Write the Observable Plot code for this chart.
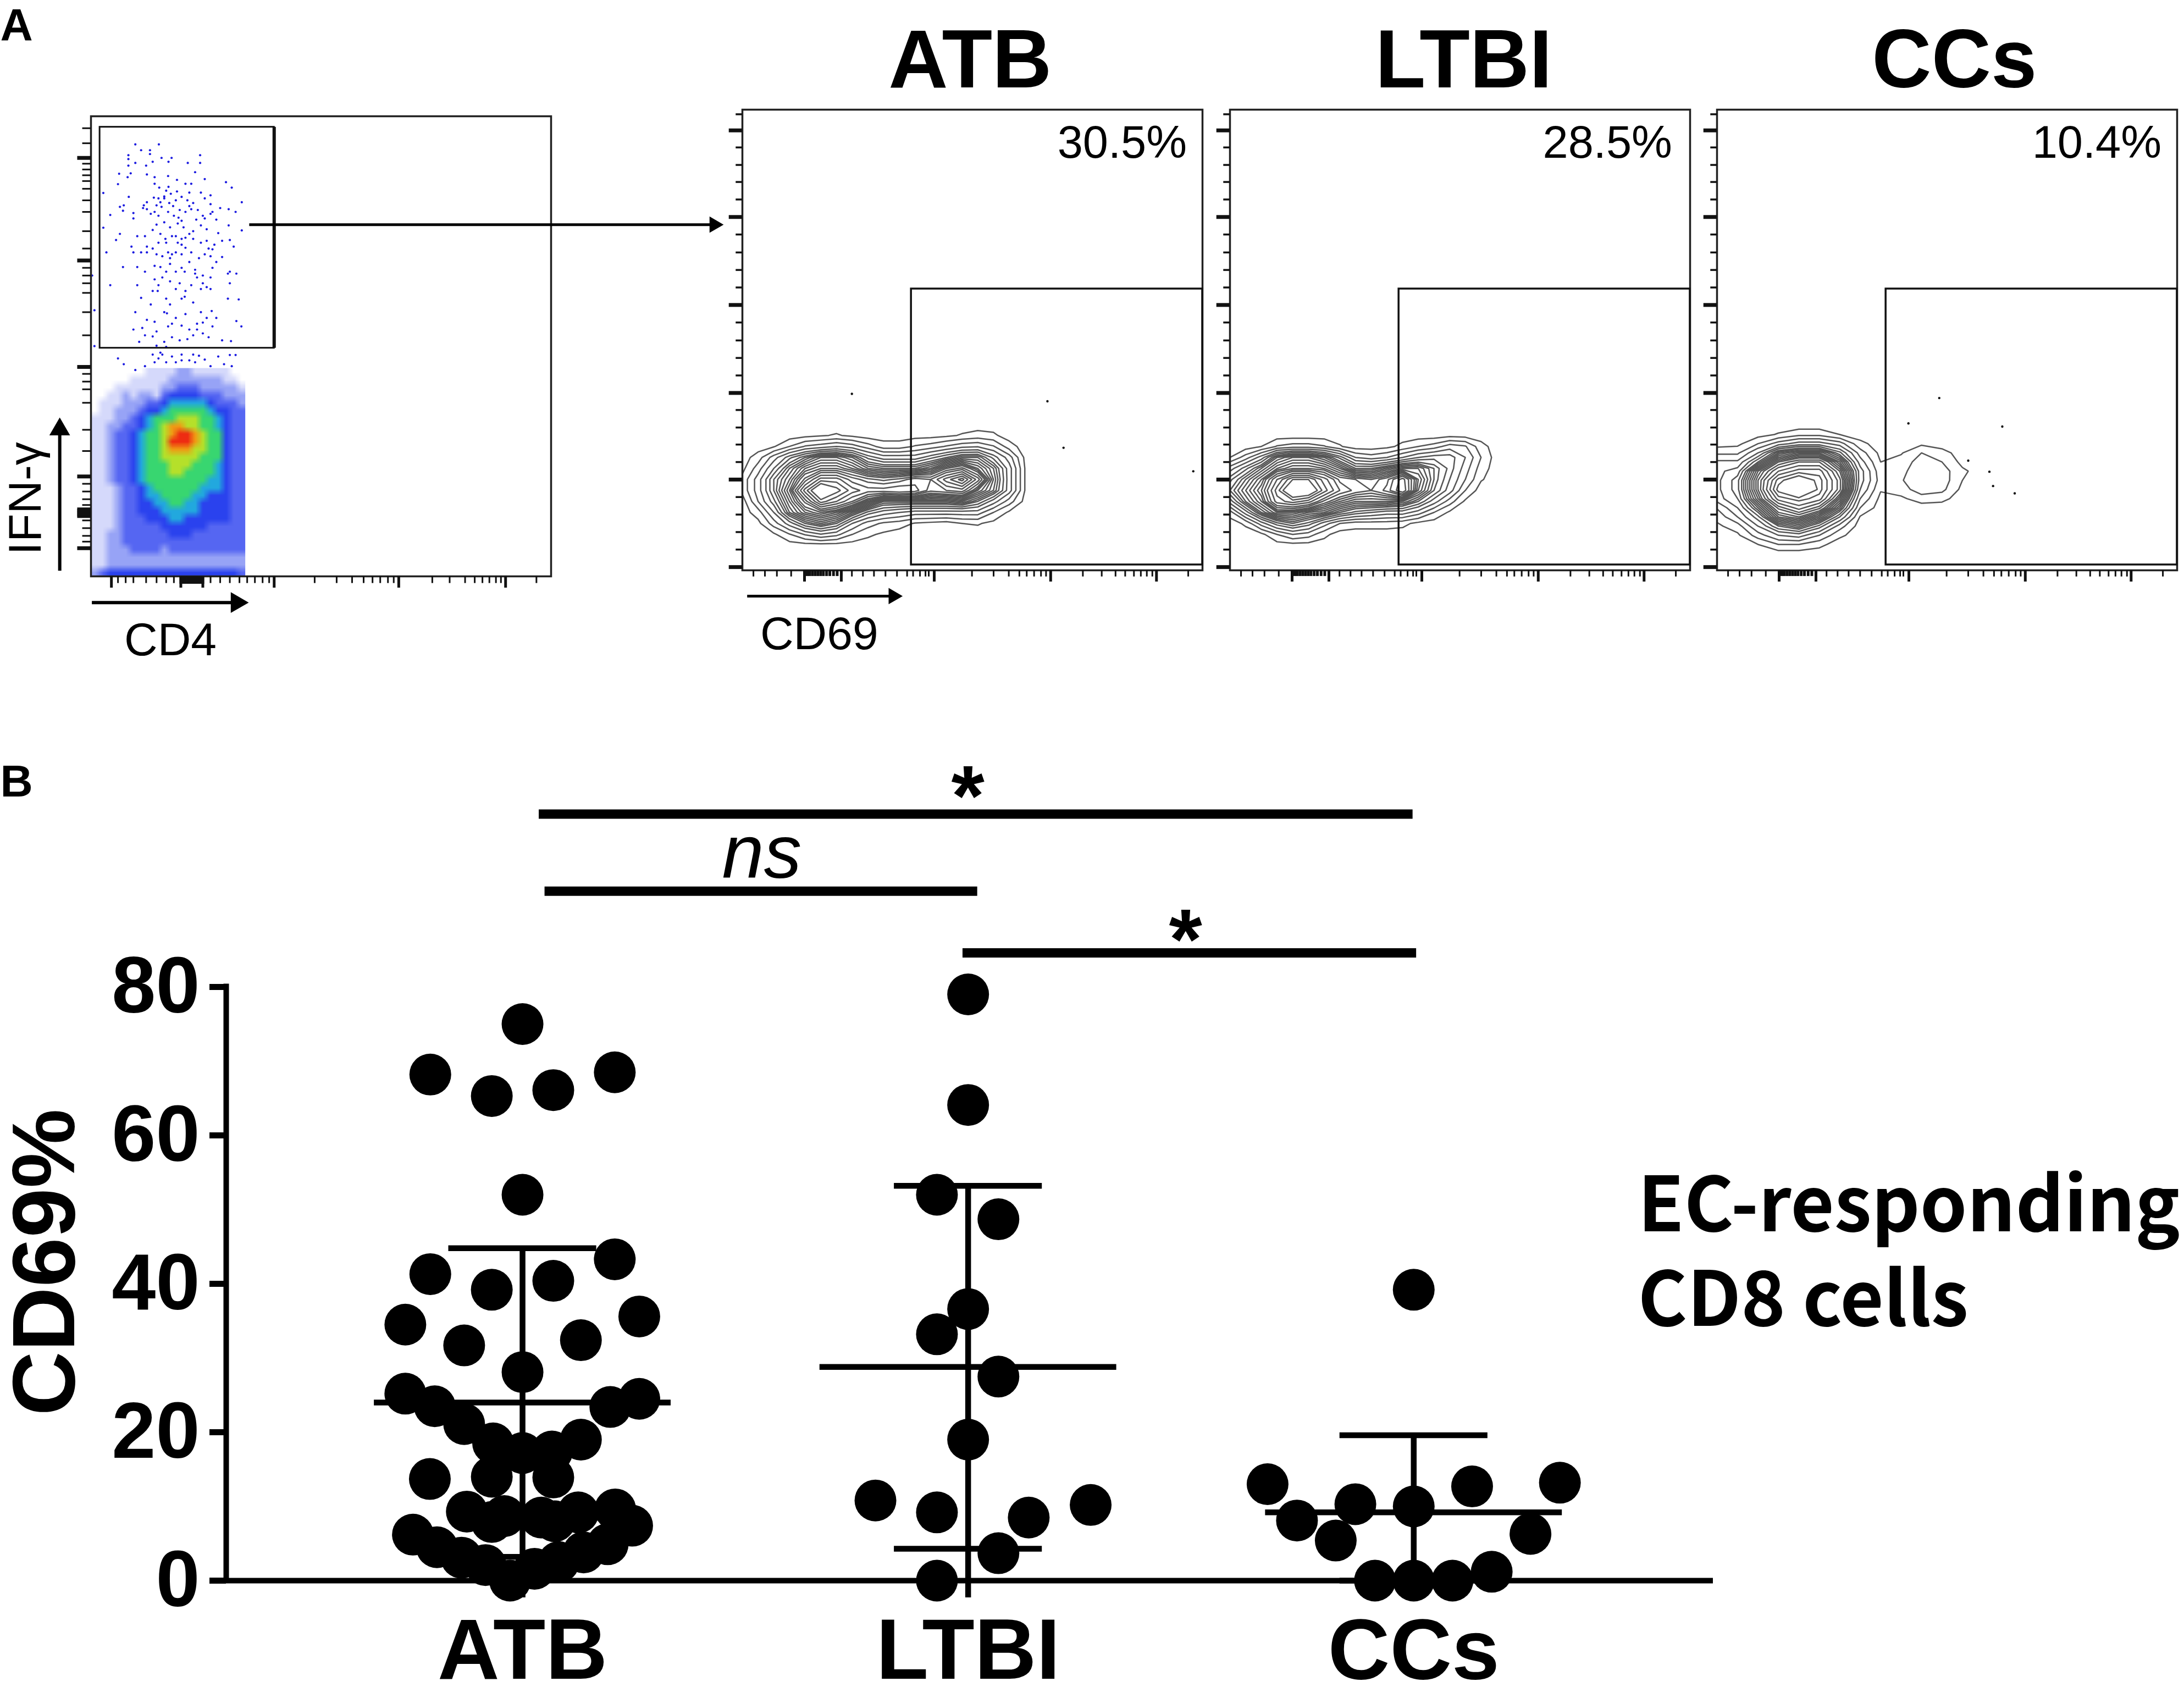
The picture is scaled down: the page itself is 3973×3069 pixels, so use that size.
<!DOCTYPE html>
<html>
<head>
<meta charset="utf-8">
<script src="https://cdn.jsdelivr.net/npm/d3@7"></script>
<script src="https://cdn.jsdelivr.net/npm/@observablehq/plot@0.6"></script>
<style>
html,body{margin:0;padding:0;background:#fff;}
#page{position:relative;width:3973px;height:3069px;overflow:hidden;background:#fff;}
#page svg{position:absolute;max-width:none;}
</style>
</head>
<body>
<div id="page"></div>
<script>
// ---------- Panel B values ----------
const groups = ["ATB", "LTBI", "CCs"];
const atbValues = [75.0,68.2,65.3,66.1,68.5,52.0,43.3,41.3,39.2,40.4,34.5,35.6,31.7,32.4,28.1,25.2,23.5,21.1,24.5,23.4,19.0,18.5,17.2,17.4,13.7,14.0,13.9,9.3,7.9,8.7,8.5,8.0,9.2,9.6,7.4,6.2,4.5,3.1,2.1,0,1.6,2.5,3.8,4.9];
const atbSpread = [0,-.207,-.069,.069,.207,0,.207,-.207,-.069,.069,-.263,.262,-.131,.131,0,-.263,-.197,-.131,.262,.197,.131,-.066,0,.066,-.208,-.069,.069,-.125,-.069,-.041,.042,.072,.125,.208,.246,-.246,-.192,-.137,-.083,-.028,.027,.081,.137,.191];
const ltbiValues = [79.0,64.1,52.0,48.7,36.6,33.2,27.5,19.0,10.8,9.2,8.5,10.2,3.7,0];
const ltbiSpread = [0,0,-.07,.068,0,-.07,.068,0,-.208,-.07,.136,.275,.068,-.07];
const ccValues = [39.2,13.0,8.1,5.4,10.3,10.0,12.7,13.2,6.3,0,0,0,1.2];
const ccSpread = [0,-.328,-.262,-.175,-.131,0,.131,.328,.262,-.087,0,.087,.175];
const means = [24.0,28.8,9.2];
const sdUpper = [44.8,53.2,19.6];
const sdLower = [3.2,4.3,0];
const whiskerEnd = [-2.3,-2.3,0];
const sigStart = [0.037,0.05,0.988];
const sigEnd = [1.998,1.021,2.006];
const sigLevel = [103.3,92.9,84.6];
const sigLabels = ["*","ns","*"];
const yTicks = [0,20,40,60,80];

// ---------- Panel A: percentages, gates, tick readings ----------
const panelNames = ["ATB","LTBI","CCs"];
const panelPercents = ["30.5%","28.5%","10.4%"];
const cd69Gate = [{x1:367,x2:1000,y1:12,y2:611}];
const flowTickYMajor = [7,197,385,576,767,955];
const flowTickYMinor = [45,83,121,159,235,273,310,348,423,461,499,538,614,652,690,729,805,843,880,918,990];
const flowTickXMajor = [135,215,417,670,900];
const flowTickXMinor = [24,49,75,106,238,262,286,311,336,358,371,386,398,405,499,546,579,602,618,634,649,660,740,781,811,832,851,866,879,891,969];
const flowTickXBlock = [135,141,146,152,158,164,170,176,183,190,198,206,215];

const atbFlyers = [[238,383],[663,367],[698,266],[980,215]];
const ltbiFlyers = [];
const ccFlyers = [[483,374],[416,319],[620,312],[546,238],[592,214],[600,183],[647,167]];

const contourLevels = [.5,1.5,2.5,3.5,4.5,5.25,6,6.5,7,7.5,8,8.5,9,9.5,10,10.75,11.5,12.5,13.5,14.5,15.5];

const atbGrid = [
 [0,0,0,0,0,0,0,0,0,0,0,0,0,0,0,0,0,0,0,0],
 [0,0,0,0,.2,.4,.6,.3,0,0,0,.1,.1,.3,.6,.9,.7,0,0,0],
 [0,0,.4,1.5,2.6,3,3.5,3,2,1,1,1.6,2,2.6,3.2,3.4,2.6,1,0,0],
 [0,1,3,5,6.5,8,8,7,5,4,4,4,5,6,7,7,5,3,.3,0],
 [.2,2,4.5,7,9,10,10,9,7.5,7,7,7,8,10,11,9,7,4,.5,0],
 [.8,3,6,8,11,14,14,12,11,10.5,11,12,11.5,14,16,12,7.5,4,.5,0],
 [.8,3,6,9,14,18,16,14,13,13,13.5,13,11,11.5,12,9,7,4,.5,0],
 [0,2.5,5,8,11,15,13.5,11.5,9,7,7,7,7,7,7.5,6,4,2,.2,0],
 [0,1,3.5,7,9,10,9,7,5,4,3.5,3,3,3,3,3,1.5,.3,0,0],
 [0,.2,2,4,6,7,6,3.5,2,1.3,1,.4,.2,0,.5,.6,.2,0,0,0],
 [0,0,.3,1.4,2.6,3.4,2.8,1.5,.7,.3,0,0,0,0,0,0,0,0,0,0],
 [0,0,0,0,0,0,0,0,0,0,0,0,0,0,0,0,0,0,0,0]
];
const ltbiGrid = [
 [0,0,0,0,0,0,0,0,0,0,0,0,0,0,0,0,0,0,0,0],
 [0,0,0,0,0,0,0,0,0,0,0,0,0,0,.2,.1,0,0,0,0],
 [0,0,.5,1.6,2,2,1.6,.6,0,0,.2,.8,1.5,2,3,2.6,.9,0,0,0],
 [.5,2,4,7,8,8,7,5,2.5,2,2.5,3.5,4.5,5,5,3.5,1.5,0,0,0],
 [3,5,7,9,10,10,9.5,8,6,6,7,8,8,6.5,5,3,1,0,0,0],
 [5,7,9,12.5,15.5,15.5,13,10.5,10,9.5,10.5,13,9,6.5,4.5,2.5,.6,0,0,0],
 [6,8,10,14,18,17.5,14,11.5,10.5,10,11,13.5,8.5,6,4,1.5,0,0,0,0],
 [4,7,9,13,14,13,10.5,9,8,8,8,7.5,6,4,2,.3,0,0,0,0],
 [1,4,7,9,9,8,7.5,6,5,4.5,4,4,3,1.5,.3,0,0,0,0,0],
 [0,.7,3,5,6,5,3,1.5,1,1,1,.8,.2,0,0,0,0,0,0,0],
 [0,0,.2,1.5,2.5,2,.8,0,0,0,0,0,0,0,0,0,0,0,0,0],
 [0,0,0,0,0,0,0,0,0,0,0,0,0,0,0,0,0,0,0,0]
];
const ccGrid = [
 [0,0,0,0,0,0,0,0,0,0,0,0,0,0],
 [0,0,.1,.6,1.2,1.2,.5,0,0,0,0,0,0,0],
 [0,.2,1.5,3,4,4,3,.8,0,0,.3,0,0,0],
 [1.3,1.3,3.5,7,8,8,5.5,2,.2,.4,1.5,.9,0,0],
 [2.7,2.7,6,10,11.5,11.5,8,3,.5,.9,2,1.5,.2,0],
 [3.2,4,9,12.5,14,14,10,4,.8,1.2,2.2,2,.7,0],
 [3.2,5,10,15,17,15,11,4,1,1.4,2.3,2.1,.5,0],
 [3.2,5,10,16,20,15,11,3.5,.6,1,2.1,1.8,.2,0],
 [3,4.5,9,14,15,14,9,2.5,.2,.3,1,.8,0,0],
 [1.6,3.5,7,11,13,11,7,1.5,0,0,0,0,0,0],
 [.8,2.5,5,9,10,8,4.5,.4,0,0,0,0,0,0],
 [.3,1,3.5,6,7,5,2,0,0,0,0,0,0,0],
 [0,.3,2,3.5,4,2.5,.7,0,0,0,0,0,0,0],
 [0,0,.5,1.5,1.5,.8,0,0,0,0,0,0,0,0],
 [0,0,0,0,0,0,0,0,0,0,0,0,0,0]
];

// ---------- Panel A: CD4 / IFN-γ dot plot readings ----------
const cloudRows = [
 "00000001111221111100",
 "00000111112222222110",
 "00011111122333222221",
 "00112122134444333222",
 "01112223345555543332",
 "01122234456666654433",
 "11122345666777665433",
 "11223345678877665433",
 "11233456678998766433",
 "11233456679998766433",
 "11233456678887766433",
 "11233456677777666433",
 "11233456667776665433",
 "11233456667766665433",
 "11233456666666655433",
 "11123345666666555433",
 "11123345566665544433",
 "11123344556655444433",
 "11123344455555444433",
 "11123334445544444433",
 "11123333344444433333",
 "11223333334443333333",
 "11223333333333333333",
 "11222333323333333333",
 "11222222222222222222",
 "11222222222222222222",
 "23444444444444444443"
];
const cloudColors = ["#ffffff","#d5d9fb","#97a3f6","#5566f2","#2a42ee","#22a8de","#38d670","#b5e02a","#f09a14","#ee2c12"];
const gatedEvents = [[350,160],[411,160],[365,175],[388,175],[388,185],[332,188],[518,188],[332,198],[444,195],[395,205],[418,195],[350,208],[332,215],[378,215],[436,205],[486,208],[518,208],[308,236],[380,238],[400,245],[435,242],[338,235],[505,232],[330,245],[458,252],[530,250],[305,263],[480,262],[495,262],[585,258],[600,272],[436,270],[430,280],[442,288],[425,295],[267,286],[490,285],[520,285],[545,292],[530,300],[333,296],[398,298],[410,300],[425,300],[380,310],[372,318],[415,310],[405,318],[320,318],[310,322],[626,310],[370,325],[380,328],[400,335],[418,322],[448,320],[490,320],[545,315],[570,325],[592,328],[610,335],[318,332],[345,338],[285,343],[390,340],[410,345],[450,345],[462,350],[470,358],[525,345],[530,352],[545,340],[550,335],[480,335],[495,328],[508,355],[345,352],[405,368],[460,365],[475,375],[500,385],[490,392],[565,390],[592,370],[267,376],[626,383],[310,392],[300,408],[355,398],[375,398],[445,398],[455,398],[470,405],[480,402],[500,405],[460,415],[470,420],[410,415],[430,415],[380,425],[340,425],[345,440],[365,440],[480,428],[540,430],[550,432],[605,425],[575,410],[595,408],[275,440],[380,440],[435,440],[445,445],[420,450],[440,455],[470,445],[530,445],[545,450],[575,452],[415,478],[318,478],[355,478],[375,490],[440,470],[470,480],[478,490],[505,485],[505,495],[550,480],[595,490],[612,495],[590,495],[238,500],[285,525],[355,525],[400,510],[420,505],[440,515],[465,520],[525,520],[535,530],[545,535],[595,520],[480,540],[395,540],[408,540],[365,558],[430,560],[440,575],[478,555],[500,570],[520,535],[590,560],[618,562],[390,575],[425,595],[432,598],[350,595],[244,590],[480,600],[520,595],[548,592],[560,610],[612,618],[510,625],[525,622],[445,625],[435,632],[490,640],[510,640],[345,640],[368,636],[405,645],[625,632],[550,632],[395,658],[360,672],[425,672],[445,660],[465,668],[485,665],[575,668],[598,670],[244,683],[405,682],[430,685],[305,715],[320,730],[395,705],[410,715],[420,705],[445,710],[470,705],[500,705],[515,708],[595,706],[610,706],[400,725],[430,725],[470,720],[490,720],[505,725],[530,718],[580,730],[600,735],[400,262],[412,272],[458,282],[470,296],[485,305],[500,312],[455,305],[438,312],[465,330],[435,335],[425,362],[440,375],[520,370],[535,380],[512,330],[560,355],[395,382],[415,392],[428,405],[520,415],[535,410],[555,420],[395,430],[405,445],[455,440],[495,440],[515,455],[560,465],[400,475],[430,490],[455,490],[490,465],[525,500],[545,505],[410,525],[455,535],[470,560],[495,525],[510,505],[455,610],[470,630],[535,610],[380,615],[400,620],[525,650],[540,660],[375,655],[500,655],[415,700],[455,725],[545,735],[565,710],[350,745],[375,735]];
const cd4TickYMajor = [195,461,737,1021,1207];
const cd4TickYMinor = [118,157,210,225,240,255,275,305,335,385,430,480,500,520,545,595,655,755,775,795,830,900,955,1040,1060,1080,1095,1135,1155,1175,1190];
const cd4TickYBlock = [1105,1109,1113,1117,1121,1125];
const cd4TickXMajor = [288,468,525,710,1033,1310];
const cd4TickXMinor = [305,325,345,378,405,430,450,545,570,595,620,640,660,680,697,815,872,912,942,965,985,1005,1020,1120,1165,1205,1230,1250,1268,1285,1298,1390];
const cd4TickXBlock = [468,474,480,486,492,498,504,510,516,522,525];
const cd4Gate = [{x1:258,x2:710,y1:115,y2:688}];

const page = document.getElementById("page");
const FONT = "'Liberation Sans', Arial, sans-serif";
function place(svg, left, top) {
  svg.style.left = left + "px";
  svg.style.top = top + "px";
  page.appendChild(svg);
}

// ---------- CD4 / IFN-γ panel ----------
place(Plot.plot({
  width: 1320, height: 1250,
  marginLeft: 165, marginRight: 318, marginTop: 211, marginBottom: 202,
  style: {background: "none", fontFamily: FONT, overflow: "visible"},
  x: {domain: [235, 1428], axis: null},
  y: {domain: [1280, 87], axis: null},
  color: {type: "linear", domain: [0,1,2,3,4,5,6,7,8,9], range: cloudColors},
  marks: [
    Plot.raster(cloudRows.join("").split("").map(Number), {width: 20, height: cloudRows.length, x1: 235, x2: 635, y1: 740, y2: 1280, fill: d => d, imageRendering: "auto"}),
    Plot.dot(gatedEvents, {x: d => d[0], y: d => d[1], r: 2.1, fill: "#1a1ae0"}),
    Plot.frame({stroke: "#222", strokeWidth: 3.5}),
    Plot.rect(cd4Gate, {x1: "x1", x2: "x2", y1: "y1", y2: "y2", stroke: "#111", strokeWidth: 3, fill: "none"}),
    Plot.ruleX(cd4Gate, {x: "x2", y1: "y1", y2: "y2", stroke: "#111", strokeWidth: 6}),
    Plot.ruleY(cd4TickYMajor, {x1: 235, x2: 200, strokeWidth: 7, stroke: "#111"}),
    Plot.ruleY(cd4TickYMinor, {x1: 235, x2: 213, strokeWidth: 3, stroke: "#111"}),
    Plot.ruleY(cd4TickYBlock, {x1: 235, x2: 200, strokeWidth: 5, stroke: "#111"}),
    Plot.ruleX(cd4TickXMajor, {y1: 1280, y2: 1310, strokeWidth: 5, stroke: "#111"}),
    Plot.ruleX(cd4TickXMinor, {y1: 1280, y2: 1298, strokeWidth: 3, stroke: "#111"}),
    Plot.ruleX(cd4TickXBlock, {y1: 1280, y2: 1300, strokeWidth: 5, stroke: "#111"}),
    // arrows
    Plot.ruleY([1348], {x1: 238, x2: 600, strokeWidth: 6, stroke: "#000"}),
    Plot.dot([[613,1348]], {x: d => d[0], y: d => d[1], symbol: "triangle", rotate: 90, r: 14, fill: "#000"}),
    Plot.ruleX([154], {y1: 1266, y2: 909, strokeWidth: 6, stroke: "#000"}),
    Plot.dot([[154,899]], {x: d => d[0], y: d => d[1], symbol: "triangle", r: 14, fill: "#000"}),
    Plot.ruleY([368], {x1: 646, x2: 1844, strokeWidth: 5, stroke: "#000"}),
    Plot.dot([[1851,368]], {x: d => d[0], y: d => d[1], symbol: "triangle", rotate: 90, r: 11, fill: "#000"}),
    // labels
    Plot.text(["CD4"], {x: 441, y: 1485, fontSize: 84, lineAnchor: "bottom", textAnchor: "middle"}),
    Plot.text(["IFN-γ"], {x: 105, y: 1078, fontSize: 84, rotate: -90, lineAnchor: "bottom", textAnchor: "middle"}),
    Plot.text(["A"], {x: 235 - 165 / 0.7016, y: -111, fontSize: 82, fontWeight: "bold", lineAnchor: "bottom", textAnchor: "start"})
  ]
}), 0, 0);

// ---------- CD69 contour panels ----------
function contourPanel({left, name, percent, grid, grid_x1, grid_x2, grid_y1, grid_y2, flyers, labelled, titleX, percentX}) {
  const marks = [
    Plot.contour(grid.flat(), {width: grid[0].length, height: grid.length, x1: grid_x1, x2: grid_x2, y1: grid_y1, y2: grid_y2, value: d => d, thresholds: contourLevels, stroke: "#555", strokeWidth: 2.5, fill: "none", clip: true}),
    Plot.dot(flyers, {x: d => d[0], y: d => d[1], r: 2.2, fill: "#111"}),
    Plot.frame({stroke: "#222", strokeWidth: 3.5}),
    Plot.rect(cd69Gate, {x1: "x1", x2: "x2", y1: "y1", y2: "y2", stroke: "#111", strokeWidth: 3.5, fill: "none"}),
    Plot.ruleY(flowTickYMajor, {x1: 0, x2: -29, strokeWidth: 7, stroke: "#111"}),
    Plot.ruleY(flowTickYMinor, {x1: 0, x2: -14, strokeWidth: 3.5, stroke: "#111"}),
    Plot.ruleX(flowTickXMajor, {y1: 0, y2: -25, strokeWidth: 5, stroke: "#111"}),
    Plot.ruleX(flowTickXMinor, {y1: 0, y2: -14, strokeWidth: 3, stroke: "#111"}),
    Plot.ruleX(flowTickXBlock, {y1: 0, y2: -13, strokeWidth: 5, stroke: "#111"}),
    Plot.text([name], {x: titleX, y: 1048, fontSize: 150, fontWeight: "bold", lineAnchor: "bottom", textAnchor: "middle"}),
    Plot.text([percent], {x: percentX, y: 895, fontSize: 83, lineAnchor: "bottom", textAnchor: "end"})
  ];
  if (labelled) marks.push(
    Plot.ruleY([-56], {x1: 11, x2: 320, strokeWidth: 5, stroke: "#000"}),
    Plot.dot([[328,-56]], {x: d => d[0], y: d => d[1], symbol: "triangle", rotate: 90, r: 11, fill: "#000"}),
    Plot.text(["CD69"], {x: 167, y: -171, fontSize: 84, lineAnchor: "bottom", textAnchor: "middle"})
  );
  place(Plot.plot({
    width: 889, height: 1250,
    marginLeft: 50, marginRight: 2, marginTop: 199, marginBottom: 213,
    style: {background: "none", fontFamily: FONT, overflow: "visible"},
    x: {domain: [0, 1000], axis: null},
    y: {domain: [0, 1000], axis: null},
    marks
  }), left - 50, 0);
}
contourPanel({left: 1350, name: panelNames[0], percent: panelPercents[0], grid: atbGrid, grid_x1: -17, grid_x2: 665, grid_y1: 328.6, grid_y2: 42, flyers: atbFlyers, labelled: true, titleX: 495, percentX: 966});
contourPanel({left: 2236.5, name: panelNames[1], percent: panelPercents[1], grid: ltbiGrid, grid_x1: -17, grid_x2: 665, grid_y1: 328.6, grid_y2: 42, flyers: ltbiFlyers, labelled: false, titleX: 508, percentX: 961});
contourPanel({left: 3123, name: panelNames[2], percent: panelPercents[2], grid: ccGrid, grid_x1: -22, grid_x2: 600, grid_y1: 324.6, grid_y2: 26.3, flyers: ccFlyers, labelled: false, titleX: 516, percentX: 966});

// ---------- Panel B ----------
const toRows = (vals, spread, g) => vals.map((v, i) => ({x: g + spread[i], y: v}));
const allDots = [...toRows(atbValues, atbSpread, 0), ...toRows(ltbiValues, ltbiSpread, 1), ...toRows(ccValues, ccSpread, 2)];
const LW = 10.5;
place(Plot.plot({
  width: 3973, height: 1689,
  marginLeft: 411, marginRight: 857, marginTop: 0, marginBottom: 194,
  style: {background: "none", fontFamily: FONT, overflow: "visible"},
  x: {domain: [-0.665, 2.672], axis: null},
  y: {domain: [0, 110.74], axis: null},
  marks: [
    Plot.axisY(yTicks, {anchor: "left", tickSize: 30, tickPadding: 18, strokeWidth: 11, fontSize: 144, fontWeight: "bold", label: null, ticks: yTicks}),
    Plot.ruleX([-0.665], {y1: 0, y2: 80.4, strokeWidth: 10, stroke: "#000"}),
    Plot.ruleY([0], {x1: -0.665, x2: 2.672, strokeWidth: 10, stroke: "#000"}),
    Plot.axisX([0, 1, 2], {anchor: "bottom", tickSize: 0, tickPadding: 68, fontSize: 156, fontWeight: "bold", label: null, tickFormat: i => groups[i]}),
    // error bars
    Plot.ruleX(groups, {x: (d, i) => i, y1: (d, i) => whiskerEnd[i], y2: (d, i) => sdUpper[i], strokeWidth: LW, stroke: "#000"}),
    Plot.ruleY(means, {x1: (d, i) => i - .333, x2: (d, i) => i + .333, strokeWidth: LW, stroke: "#000"}),
    Plot.ruleY(sdUpper, {x1: (d, i) => i - .166, x2: (d, i) => i + .166, strokeWidth: LW, stroke: "#000"}),
    Plot.ruleY(sdLower, {x1: (d, i) => i - .166, x2: (d, i) => i + .166, strokeWidth: LW, stroke: "#000"}),
    Plot.dot(allDots, {x: "x", y: "y", r: 38, fill: "#000"}),
    // significance
    Plot.ruleY(sigLevel, {x1: (d, i) => sigStart[i], x2: (d, i) => sigEnd[i], strokeWidth: 17, stroke: "#000"}),
    Plot.text([sigLabels[0]], {x: 0.9994, y: 101.85, fontSize: 155, fontWeight: "bold", lineAnchor: "bottom", textAnchor: "middle"}),
    Plot.text([sigLabels[1]], {x: 0.537, y: 94.7, fontSize: 137, fontStyle: "italic", lineAnchor: "bottom", textAnchor: "middle"}),
    Plot.text([sigLabels[2]], {x: 1.488, y: 82.45, fontSize: 155, fontWeight: "bold", lineAnchor: "bottom", textAnchor: "middle"}),
    // labels
    Plot.text(["CD69%"], {x: -1.006, y: 42.9, rotate: -90, fontSize: 162, fontWeight: "bold", lineAnchor: "bottom", textAnchor: "middle"}),
    Plot.text(["EC-responding"], {x: 2.503, y: 47.1, fontSize: 137, fontWeight: 700, fontFamily: "'Noto Sans CJK SC', sans-serif", lineAnchor: "bottom", textAnchor: "start"}),
    Plot.text(["CD8 cells"], {x: 2.503, y: 34.3, fontSize: 137, fontWeight: 700, fontFamily: "'Noto Sans CJK SC', sans-serif", lineAnchor: "bottom", textAnchor: "start"}),
    Plot.text(["B"], {x: -1.172, y: 105.7, fontSize: 82, fontWeight: "bold", lineAnchor: "bottom", textAnchor: "start"})
  ]
}), 0, 1380);
</script>
</body>
</html>
